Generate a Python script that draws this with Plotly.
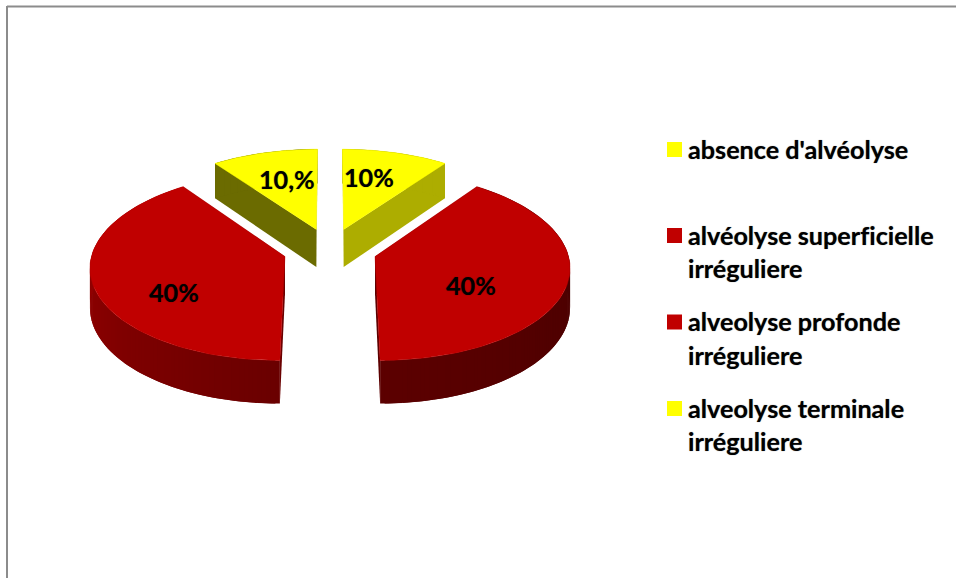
import numpy as np
import plotly.graph_objects as go

categories = ["absence d'alvéolyse", "alvéolyse superficielle\nirréguliere",
              "alveolyse profonde\nirréguliere", "alveolyse terminale\nirréguliere"]
values = [10, 40, 40, 10]
value_labels = ["10%", "40%", "40%", "10,%"]
top_colors = ["#FFFF00", "#C00000", "#C00000", "#FFFF00"]
side_start = ["#ADAD00", "#5C0000", "#6A0000", "#6B6B00"]
side_end = ["#ADAD00", "#400000", "#A80000", "#6B6B00"]
pulls = [0.235, 0.245, 0.245, 0.235]
label_xy = [(369, 177), (471, 285), (174, 292), (287, 179)]

W, H = 956, 578
CX, CY, A, B, K, DEPTH = 330, 249.5, 192, 92, 0.10, 38.5
FONT = "Lato"
FS = 25.2
SHADOW = "0 0 1px rgba(0,0,0,0.55)"


def project(X, Y, Z=0.0):
    s = 1 / (1 + K * Y)
    return CX + A * X * s, CY - B * Y * s + DEPTH * Z * s


def hex2rgb(c):
    return np.array([int(c[i:i + 2], 16) for i in (1, 3, 5)], float)


def mix(c1, c2, t):
    r = hex2rgb(c1) * (1 - t) + hex2rgb(c2) * t
    return "rgb(%d,%d,%d)" % tuple(r.round())


def poly(fig, xs, ys, color, line=0.0):
    fig.add_trace(go.Scatter(x=list(xs), y=list(ys), mode="lines", fill="toself",
                             fillcolor=color, line=dict(color=color, width=line),
                             hoverinfo="skip", showlegend=False))


fig = go.Figure()
edges = np.cumsum([0] + values) / sum(values) * 2 * np.pi
order = [0, 3, 1, 2]
for i in order:
    t0, t1 = edges[i], edges[i + 1]
    mid = (t0 + t1) / 2
    dx, dy = pulls[i] * np.sin(mid), pulls[i] * np.cos(mid)
    # radial walls
    for t in (t0, t1):
        xr = [dx, dx + np.sin(t)]
        yr = [dy, dy + np.cos(t)]
        px, py = project(np.array(xr + xr[::-1]), np.array(yr + yr[::-1]), np.array([0, 0, 1, 1]))
        poly(fig, px, py, side_start[i])
    # outer wall in overlapping bands, so that no seam shows
    n = 3 * values[i]
    th = np.linspace(t0, t1, n + 1)
    step = th[1] - th[0]
    seq = range(n) if i == 2 else range(n - 1, -1, -1)
    for j in seq:
        a, b = th[j], th[j + 1]
        if i == 2:
            b = min(t1, b + step)
        else:
            a = max(t0, a - step)
        xo = dx + np.sin(np.linspace(a, b, 4))
        yo = dy + np.cos(np.linspace(a, b, 4))
        px1, py1 = project(xo, yo, 0)
        px2, py2 = project(xo[::-1], yo[::-1], 1)
        frac = (j + 0.5) / n
        if i == 1:
            frac = 1 - frac
        poly(fig, np.r_[px1, px2], np.r_[py1, py2], mix(side_start[i], side_end[i], frac))
    # top face
    th = np.linspace(t0, t1, 80)
    xt = np.r_[dx, dx + np.sin(th)]
    yt = np.r_[dy, dy + np.cos(th)]
    px, py = project(xt, yt)
    poly(fig, np.r_[px, px[0]], np.r_[py, py[0]], top_colors[i], 0.5)

annotations = []
font = dict(family=FONT, size=FS, color="black", weight="bold", shadow=SHADOW)
for lab, (x, y) in zip(value_labels, label_xy):
    annotations.append(dict(x=x, y=y, text=lab, showarrow=False, xref="x", yref="y", font=font))

# legend
legend_y = [149.5, 235.5, 322, 408.5]
fig.add_trace(go.Scatter(x=[674.5] * 4, y=legend_y, mode="markers", hoverinfo="skip", showlegend=False,
                         marker=dict(symbol="square", size=15, color=top_colors, line=dict(width=0))))
for cat, y in zip(categories, legend_y):
    for k, line in enumerate(cat.split("\n")):
        annotations.append(dict(x=686, y=y - 1 + k * 33.5, text=line, showarrow=False, xanchor="left",
                                xref="x", yref="y", font=font))

shapes = [
    dict(type="line", x0=7, x1=7, y0=6, y1=H, xref="x", yref="y", line=dict(color="#8C8C8C", width=2)),
    dict(type="line", x0=7, x1=W, y0=6.5, y1=6.5, xref="x", yref="y", line=dict(color="#8C8C8C", width=2)),
]

fig.update_layout(
    width=W, height=H, margin=dict(l=0, r=0, t=0, b=0), autosize=False,
    paper_bgcolor="white", plot_bgcolor="white", showlegend=False,
    xaxis=dict(range=[0, W], visible=False, fixedrange=True),
    yaxis=dict(range=[H, 0], visible=False, fixedrange=True),
    annotations=annotations, shapes=shapes,
)
fig.write_html("out.html", config=dict(displayModeBar=False),
               default_width=W, default_height=H)
s = open("out.html", encoding="utf-8").read()
s = s.replace("<head>", "<head><style>html,body{margin:0;padding:0;background:white}"
              "text{font-variant-ligatures:none !important;font-feature-settings:'liga' 0,'clig' 0 !important}</style>", 1)
open("out.html", "w", encoding="utf-8").write(s)
